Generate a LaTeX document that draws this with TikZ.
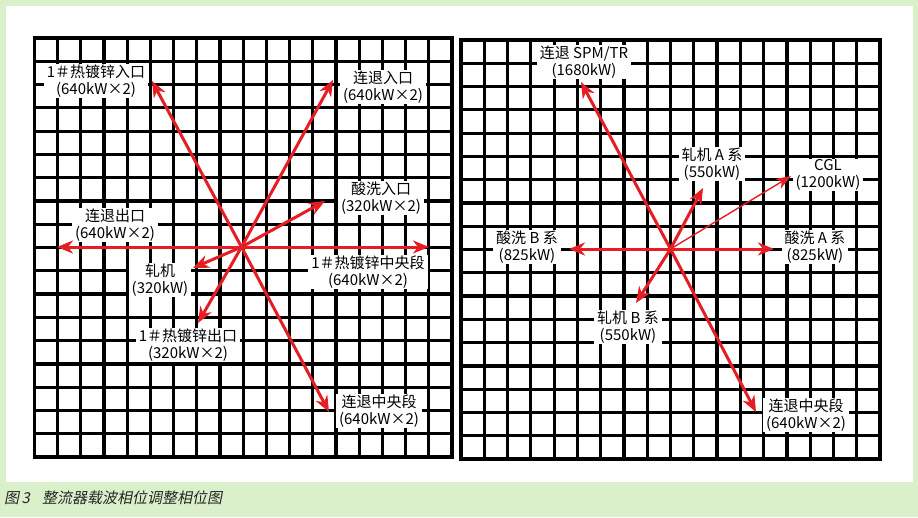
\documentclass[tikz,border=0pt]{standalone}
\usepackage{fontspec}
\setmainfont{Noto Sans CJK SC}
\usetikzlibrary{arrows.meta}
\definecolor{bggreen}{RGB}{218,240,203}
\definecolor{arrowred}{RGB}{228,30,36}
\begin{document}
\begin{tikzpicture}[x=1pt,y=-1pt,
  lbl/.style={fill=white,align=center,font=\fontsize{15}{17.5}\selectfont,inner xsep=3pt,inner ysep=0.5pt},
  gridline/.style={line width=3.2pt},
  ray/.style={draw=arrowred,line width=3pt,-{Stealth[length=16pt,width=13pt,inset=5pt]}},
  thinray/.style={draw=arrowred,line width=1.4pt,-{Stealth[length=15pt,width=11pt,inset=4pt]}},
  captxt/.style={anchor=west,inner sep=0pt,text=black!85,font=\fontsize{15}{16}\selectfont\addfontfeatures{FakeSlant=0.2}}]
\useasboundingbox (0,0) rectangle (918,517);
\fill[bggreen] (0,0) rectangle (918,517);
\fill[white] (6,6) rectangle (913,482);
% left grid
\foreach \i in {1,...,17} {
  \draw[gridline] ({34.5+\i*23.19},38) -- ({34.5+\i*23.19},457);
  \draw[gridline] (34.5,{38+\i*23.28}) -- (452,{38+\i*23.28});
}
\draw[gridline] (34.5,38) rectangle (452,457);
% right grid
\foreach \i in {1,...,17} {
  \draw[gridline] ({461+\i*23.28},40) -- ({461+\i*23.28},459);
  \draw[gridline] (461,{40+\i*23.28}) -- (880,{40+\i*23.28});
}
\draw[gridline] (461,40) rectangle (880,459);
% left labels
\node[lbl] (L1) at (96,81) {1＃热镀锌入口\\(640kW×2)};
\node[lbl] (L2) at (383,87) {连退入口\\(640kW×2)};
\node[lbl] (L3) at (381,198) {酸洗入口\\(320kW×2)};
\node[lbl] (L4) at (115,225) {连退出口\\(640kW×2)};
\node[lbl] (L5) at (368,272) {1＃热镀锌中央段\\(640kW×2)};
\node[lbl] (L6) at (160,280) {轧机\\(320kW)};
\node[lbl] (L7) at (188,345) {1＃热镀锌出口\\(320kW×2)};
\node[lbl] (L8) at (379,411) {连退中央段\\(640kW×2)};
% right labels
\node[lbl] (R1) at (584,62) {连退 SPM/TR\\(1680kW)};
\node[lbl] (R2) at (712,164) {轧机 A 系\\(550kW)};
\node[lbl] (R3) at (828,175) {CGL\\(1200kW)};
\node[lbl] (R4) at (527,247) {酸洗 B 系\\(825kW)};
\node[lbl] (R5) at (815,247) {酸洗 A 系\\(825kW)};
\node[lbl] (R6) at (628,327) {轧机 B 系\\(550kW)};
\node[lbl] (R7) at (806,415) {连退中央段\\(640kW×2)};
% centres and tips
\coordinate (cL) at (241.5,247);
\coordinate (tA) at (152,81);
\coordinate (tB) at (333,80);
\coordinate (tC) at (325,201);
\coordinate (tD) at (57,247);
\coordinate (tE) at (429,247);
\coordinate (tF) at (193,268);
\coordinate (tG) at (198,323);
\coordinate (tH) at (329,412);
\coordinate (cR) at (670.5,249);
\coordinate (rA) at (581,82);
\coordinate (rB) at (703,188);
\coordinate (rC) at (791,176);
\coordinate (rD) at (569,249);
\coordinate (rE) at (774,249);
\coordinate (rF) at (636,303);
\coordinate (rG) at (756,412);
% arrows
\foreach \t in {tA,tB,tC,tD,tE,tF,tG,tH} \draw[ray] (cL) -- (\t);
\foreach \t in {rA,rB,rD,rE,rF,rG} \draw[ray] (cR) -- (\t);
\draw[thinray] (cR) -- (rC);
% caption
\node[captxt] (cap) at (4,498) {图\,3\hspace{12pt}整流器载波相位调整相位图};
\end{tikzpicture}
\end{document}
